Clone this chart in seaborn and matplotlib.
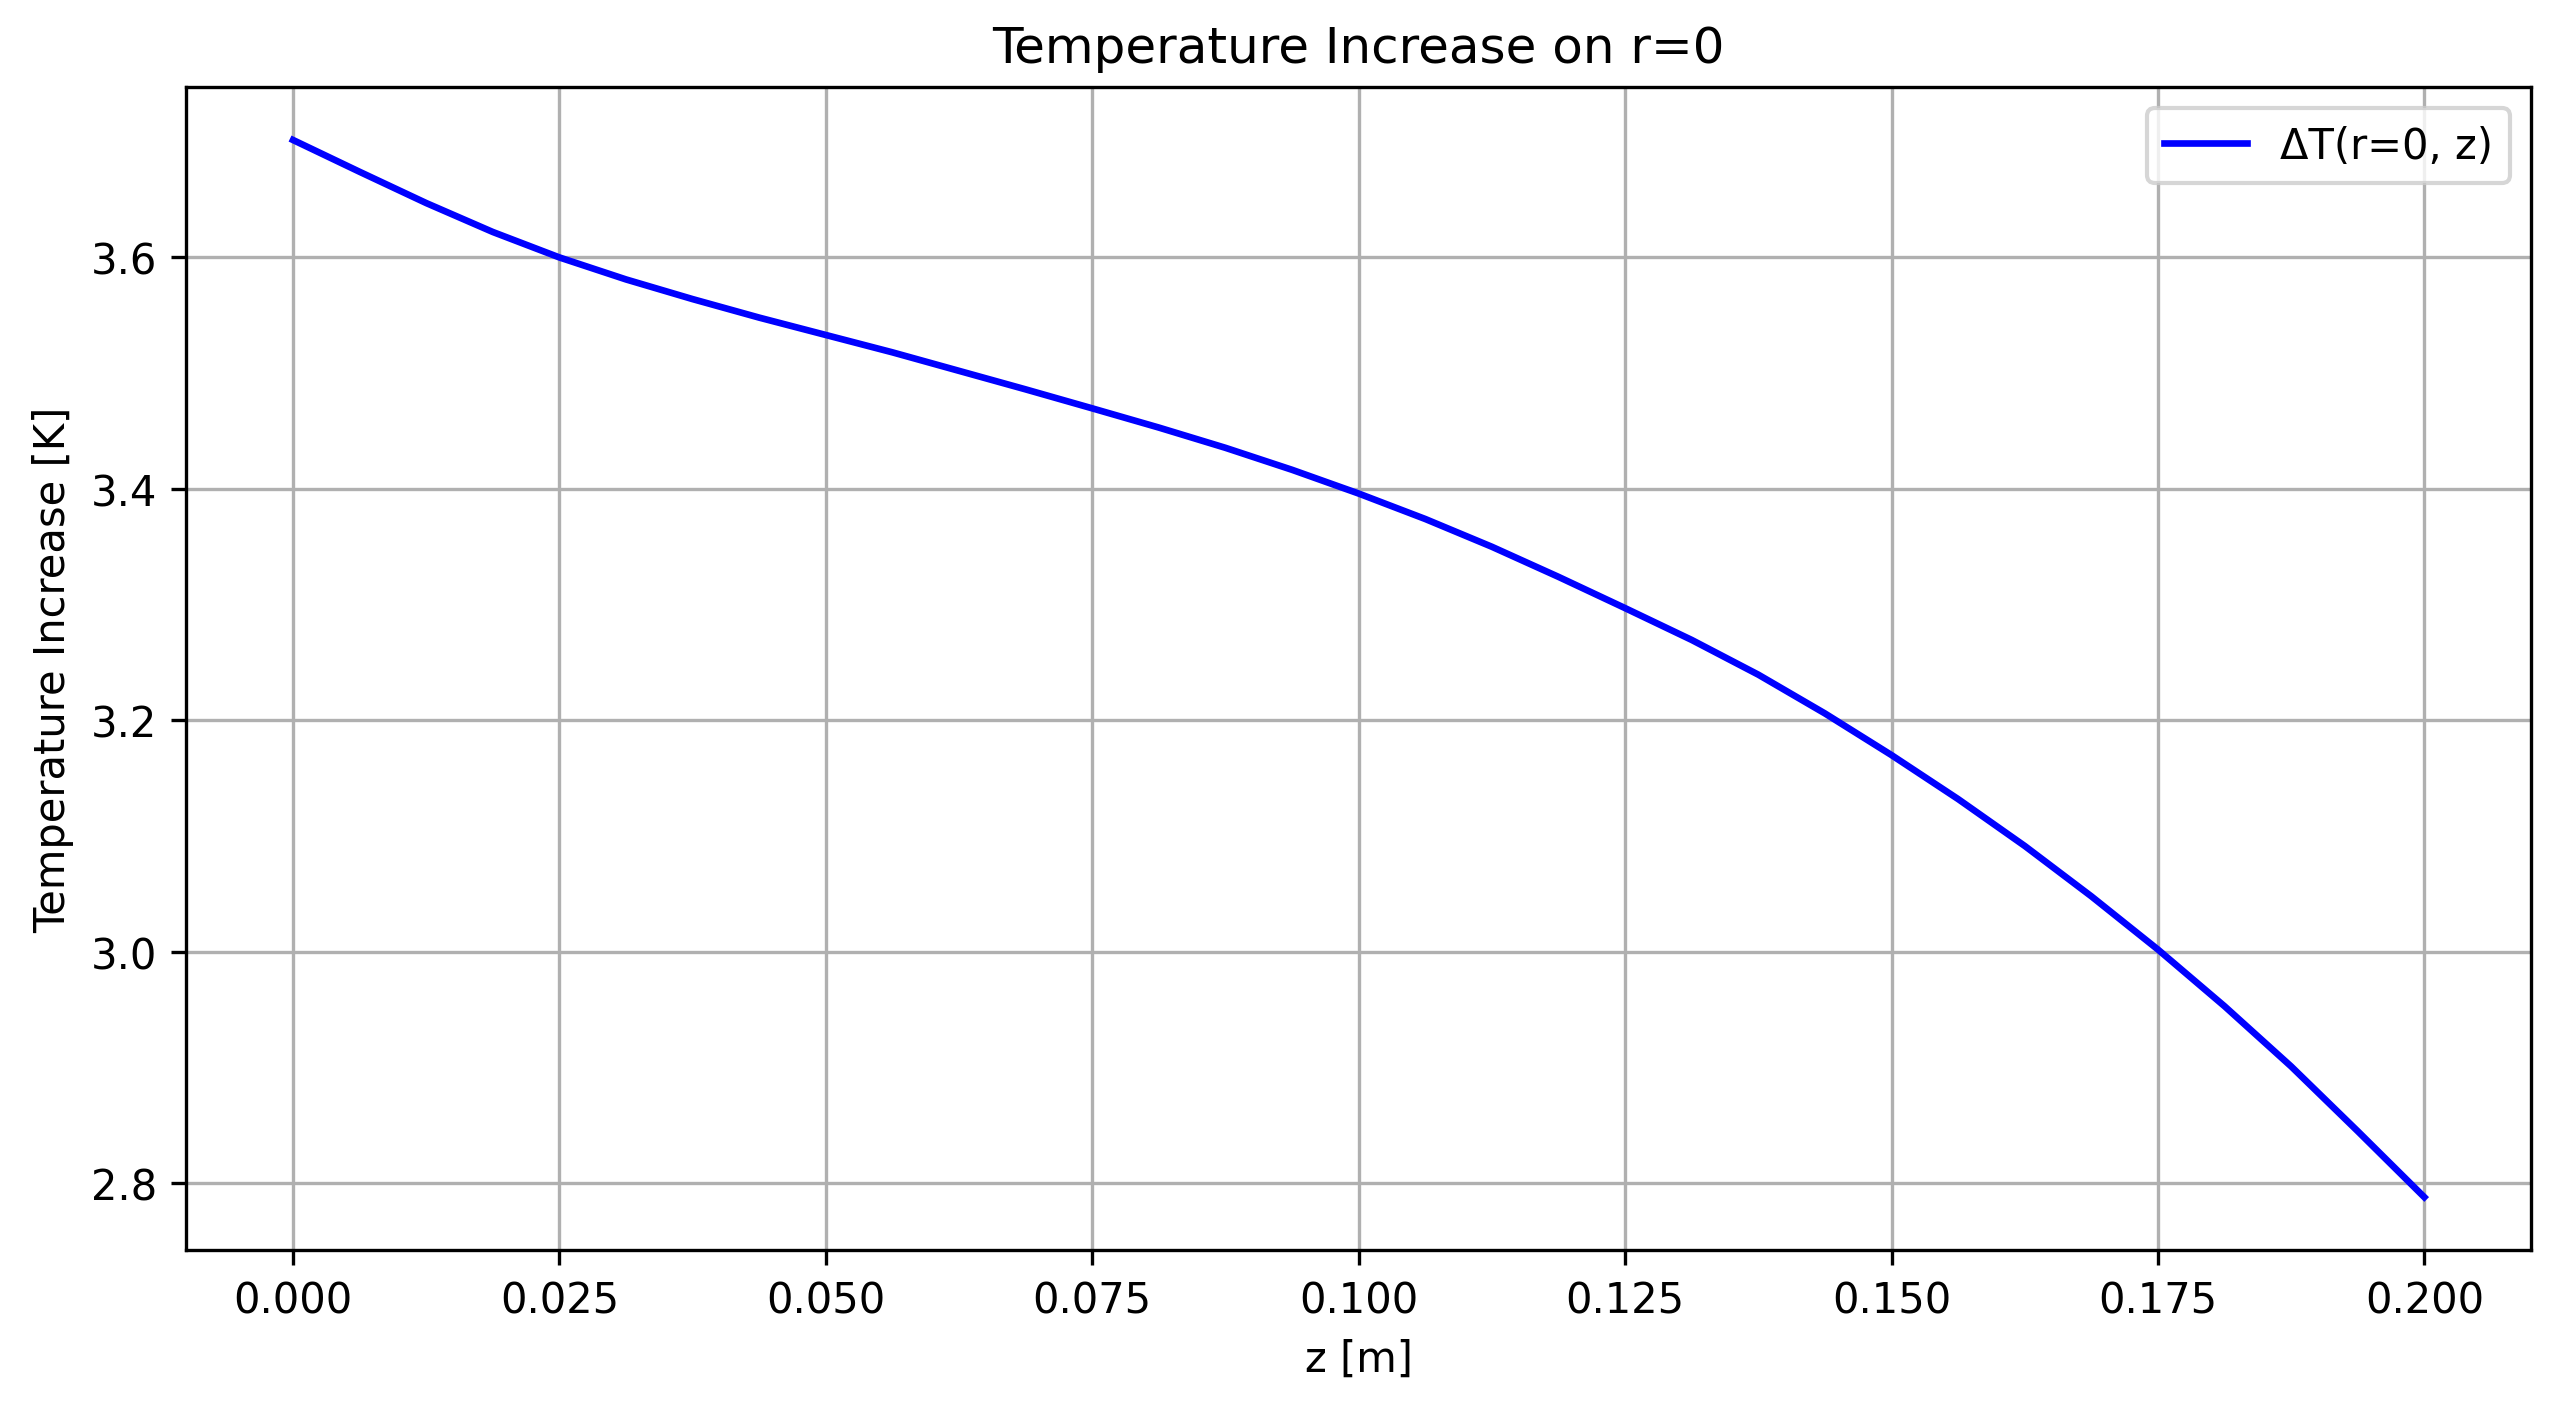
import numpy as np
import pandas as pd
import matplotlib
matplotlib.use("Agg")
import matplotlib.pyplot as plt
import seaborn as sns

# values
z_m = [0.0, 0.00625, 0.0125, 0.01875, 0.025, 0.03125, 0.0375, 0.04375,
       0.05, 0.05625, 0.0625, 0.06875, 0.075, 0.08125, 0.0875, 0.09375,
       0.1, 0.10625, 0.1125, 0.11875, 0.125, 0.13125, 0.1375, 0.14375,
       0.15, 0.15625, 0.1625, 0.16875, 0.175, 0.18125, 0.1875, 0.19375, 0.2]
dT_K = [3.7015, 3.674, 3.647, 3.622, 3.600, 3.581, 3.564, 3.548,
        3.533, 3.518, 3.502, 3.486, 3.4696, 3.453, 3.4355, 3.4165,
        3.396, 3.374, 3.350, 3.324, 3.297, 3.2695, 3.2395, 3.206,
        3.170, 3.132, 3.0915, 3.048, 3.002, 2.953, 2.901, 2.845, 2.788]

df = pd.DataFrame({"z": z_m, "dT": dT_K})

fig = plt.figure(figsize=(8.55, 4.673), dpi=300)
ax = fig.add_axes([0.0727, 0.1077, 0.914, 0.8295])

sns.lineplot(data=df, x="z", y="dT", color="blue", linewidth=1.6,
             label="ΔT(r=0, z)", ax=ax, sort=False)

ax.set_title("Temperature Increase on r=0")
ax.set_xlabel("z [m]")
ax.set_ylabel("Temperature Increase [K]")
ax.grid(True)
ax.legend(loc="upper right")

plt.savefig("out.png")
